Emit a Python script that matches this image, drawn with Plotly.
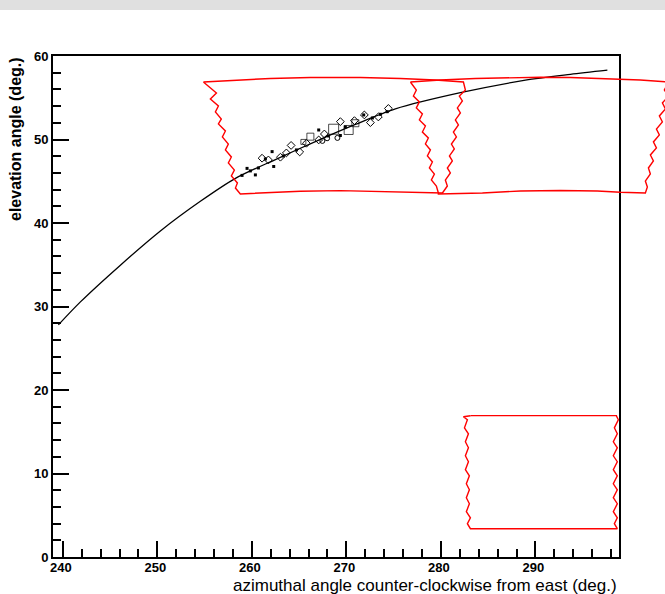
import plotly.graph_objects as go

# ---------------- data (azimuth deg, elevation deg) ----------------
CURVE_AZ = [239.53, 241.86, 246.09, 250.32, 254.55, 258.26, 262.49, 266.72, 270.95, 275.18, 282.06, 288.94, 293.70, 297.61]
CURVE_EL = [27.80, 30.55, 34.95, 39.05, 42.60, 45.35, 47.60, 49.75, 51.80, 53.66, 55.60, 57.10, 57.80, 58.30]

FILLED_AZ = [258.96, 259.49, 260.37, 261.43, 262.14, 262.31, 267.07, 269.36, 271.83, 273.60, 274.30, 259.84, 260.69, 263.33, 264.71, 268.09, 269.89, 272.75]
FILLED_EL = [45.70, 46.54, 45.76, 47.67, 48.55, 46.77, 51.14, 50.48, 52.94, 53.02, 53.33, 46.24, 46.59, 48.03, 48.75, 50.43, 51.50, 52.58]

DIAMOND_AZ = [261.08, 261.75, 263.02, 263.65, 264.15, 265.06, 265.77, 267.07, 267.67, 269.36, 270.85, 271.90, 272.54, 273.38, 274.44]
DIAMOND_EL = [47.76, 47.55, 47.88, 48.39, 49.29, 48.51, 49.55, 49.95, 50.66, 52.14, 52.26, 52.94, 52.02, 52.70, 53.72]

SQUARE_AZ = [266.19, 268.65, 270.24, 270.95, 265.45]
SQUARE_EL = [50.34, 51.23, 51.14, 51.95, 49.71]
SQUARE_SIZES = [7, 10, 9, 7, 5]

CIRCLE_AZ = [267.96, 267.46, 269.05]
CIRCLE_EL = [50.15, 49.83, 50.19]

# field-of-view outline A
A_TOP_AZ = [254.87, 258.26, 261.96, 266.19, 268.62, 271.48, 275.71, 279.41, 282.38]
A_TOP_EL = [56.89, 57.13, 57.31, 57.43, 57.46, 57.43, 57.31, 57.13, 56.89]
A_RIGHT_AZ = [282.38, 282.59, 281.95, 282.27, 281.74, 282.06, 281.53, 281.85, 281.32, 281.64, 281.11, 281.42, 280.90, 281.21, 280.68, 281.00, 280.47, 280.68, 280.16]
A_RIGHT_EL = [56.89, 55.93, 55.21, 54.62, 53.78, 53.18, 52.34, 51.74, 50.90, 50.30, 49.46, 48.87, 48.03, 47.43, 46.59, 45.99, 45.15, 44.43, 43.60]
A_BOTTOM_AZ = [258.78, 261.96, 265.13, 269.36, 273.60, 277.30, 280.16]
A_BOTTOM_EL = [43.48, 43.66, 43.81, 43.88, 43.81, 43.66, 43.60]
A_LEFT_AZ = [254.87, 256.25, 255.61, 256.46, 256.14, 256.77, 256.46, 257.20, 256.88, 257.51, 257.20, 257.83, 257.51, 258.15, 257.83, 258.47, 258.26, 258.78]
A_LEFT_EL = [56.89, 55.57, 54.85, 54.01, 53.30, 52.46, 51.86, 51.02, 50.30, 49.46, 48.75, 47.91, 47.19, 46.35, 45.63, 44.79, 44.19, 43.48]

# field-of-view outline B
B_TOP_AZ = [276.77, 279.94, 283.65, 287.35, 290.52, 293.70, 297.40, 301.10, 304.07]
B_TOP_EL = [56.89, 57.13, 57.31, 57.43, 57.46, 57.43, 57.31, 57.13, 56.89]
B_RIGHT_AZ = [304.07, 303.64, 304.07, 303.43, 303.75, 303.11, 303.43, 302.80, 303.11, 302.48, 302.80, 302.16, 302.48, 301.95, 302.16, 301.63, 301.84, 301.63]
B_RIGHT_EL = [56.89, 55.93, 55.21, 54.38, 53.66, 52.82, 52.10, 51.26, 50.54, 49.71, 48.99, 48.15, 47.43, 46.59, 45.87, 45.03, 44.31, 43.60]
B_BOTTOM_AZ = [279.73, 284.39, 288.41, 292.64, 296.55, 298.99, 301.63]
B_BOTTOM_EL = [43.48, 43.60, 43.84, 43.90, 43.84, 43.69, 43.60]
B_LEFT_AZ = [276.77, 277.40, 277.09, 277.72, 277.40, 278.04, 277.72, 278.36, 278.04, 278.67, 278.36, 278.89, 278.57, 279.10, 278.78, 279.31, 278.99, 279.52, 279.73]
B_LEFT_EL = [56.89, 55.93, 55.21, 54.50, 53.78, 53.06, 52.34, 51.62, 50.90, 50.18, 49.46, 48.75, 48.03, 47.31, 46.59, 45.87, 45.15, 44.43, 43.60]

# outline C (low box)
C_TOP_AZ = [283.12, 298.56]
C_TOP_EL = [16.93, 16.93]
C_RIGHT_AZ = [298.56, 298.77, 298.35, 298.66, 298.24, 298.66, 298.24, 298.66, 298.24, 298.66, 298.24, 298.66, 298.24, 298.66, 298.24, 298.66, 298.35, 298.66]
C_RIGHT_EL = [16.91, 16.43, 15.47, 14.76, 13.80, 13.08, 12.12, 11.41, 10.45, 9.73, 8.77, 8.05, 7.10, 6.38, 5.42, 4.70, 3.99, 3.39]
C_BOTTOM_AZ = [283.12, 298.66]
C_BOTTOM_EL = [3.39, 3.39]
C_LEFT_AZ = [283.12, 282.38, 282.80, 282.49, 282.91, 282.59, 282.91, 282.59, 282.91, 282.59, 283.01, 282.69, 283.01, 282.69, 283.01, 282.69, 283.12, 282.80, 283.12]
C_LEFT_EL = [16.91, 16.79, 16.43, 15.47, 14.76, 13.80, 13.08, 12.12, 11.41, 10.45, 9.73, 8.77, 8.05, 7.10, 6.38, 5.42, 4.70, 3.99, 3.39]

X_RANGE = [238.96, 298.84]
Y_RANGE = [0, 60]
X_TITLE = "azimuthal angle counter-clockwise from east (deg.)"
Y_TITLE = "elevation angle (deg.)"

# ---------------- layout geometry ----------------
W, H = 665, 594
ML, MT, MB = 53, 56, 37
AXIS_W = 566            # visible frame width in px
PLOT_W = W - ML         # drawing area extends to the right edge
PLOT_H = H - MT - MB
dom_end = AXIS_W / PLOT_W
x2_max = X_RANGE[0] + (X_RANGE[1] - X_RANGE[0]) / dom_end


def outline(top_az, top_el, right_az, right_el, bot_az, bot_el, left_az, left_el):
    xs = list(top_az) + list(right_az) + list(bot_az)[::-1] + list(left_az)[::-1]
    ys = list(top_el) + list(right_el) + list(bot_el)[::-1] + list(left_el)[::-1]
    return xs, ys


fig = go.Figure()
RED = "#ff0000"
for parts in [
    (A_TOP_AZ, A_TOP_EL, A_RIGHT_AZ, A_RIGHT_EL, A_BOTTOM_AZ, A_BOTTOM_EL, A_LEFT_AZ, A_LEFT_EL),
    (B_TOP_AZ, B_TOP_EL, B_RIGHT_AZ, B_RIGHT_EL, B_BOTTOM_AZ, B_BOTTOM_EL, B_LEFT_AZ, B_LEFT_EL),
    (C_TOP_AZ, C_TOP_EL, C_RIGHT_AZ, C_RIGHT_EL, C_BOTTOM_AZ, C_BOTTOM_EL, C_LEFT_AZ, C_LEFT_EL),
]:
    xs, ys = outline(*parts)
    fig.add_trace(go.Scatter(x=xs, y=ys, mode="lines", xaxis="x2", yaxis="y",
                             line=dict(color=RED, width=1.4), hoverinfo="skip", showlegend=False))

fig.add_trace(go.Scatter(x=CURVE_AZ, y=CURVE_EL, mode="lines",
                         line=dict(color="black", width=1.3, shape="spline", smoothing=0.8),
                         showlegend=False))
fig.add_trace(go.Scatter(x=SQUARE_AZ, y=SQUARE_EL, mode="markers",
                         marker=dict(symbol="square-open", size=SQUARE_SIZES, color="black",
                                     line=dict(width=1, color="black")), showlegend=False))
fig.add_trace(go.Scatter(x=CIRCLE_AZ, y=CIRCLE_EL, mode="markers",
                         marker=dict(symbol="circle-open", size=5, color="black",
                                     line=dict(width=1, color="black")), showlegend=False))
fig.add_trace(go.Scatter(x=DIAMOND_AZ, y=DIAMOND_EL, mode="markers",
                         marker=dict(symbol="diamond-open", size=6, color="black",
                                     line=dict(width=1, color="black")), showlegend=False))
fig.add_trace(go.Scatter(x=FILLED_AZ, y=FILLED_EL, mode="markers",
                         marker=dict(symbol="square", size=3, color="black"), showlegend=False))

tickfont = dict(family="Liberation Sans, Arial, sans-serif", size=13, color="black", weight="bold")

fig.update_layout(
    width=W, height=H,
    margin=dict(l=ML, r=0, t=MT, b=MB, pad=0),
    paper_bgcolor="white", plot_bgcolor="rgba(0,0,0,0)",
    showlegend=False,
    xaxis=dict(domain=[0, dom_end], range=X_RANGE, showgrid=False, zeroline=False,
               showline=True, linecolor="black", linewidth=2, mirror=True,
               ticks="inside", ticklen=16, tickwidth=2, tickcolor="black",
               tick0=0, dtick=10, tickfont=tickfont, ticklabelstandoff=-3, ticklabelshift=-2,
               minor=dict(ticks="inside", ticklen=8, tickwidth=2, tickcolor="black", tick0=0, dtick=2)),
    xaxis2=dict(domain=[0, 1], range=[X_RANGE[0], x2_max], visible=False, anchor="y"),
    yaxis=dict(range=Y_RANGE, showgrid=False, zeroline=False,
               showline=True, linecolor="black", linewidth=2, mirror=True,
               ticks="inside", ticklen=16, tickwidth=2, tickcolor="black",
               tick0=0, dtick=10, tickfont=tickfont, anchor="x",
               minor=dict(ticks="inside", ticklen=8, tickwidth=2, tickcolor="black", tick0=0, dtick=2)),
    shapes=[dict(type="rect", xref="paper", yref="paper",
                 x0=-ML / PLOT_W, x1=1.0, y0=1 + (MT - 10) / PLOT_H, y1=1 + MT / PLOT_H,
                 fillcolor="#e0e0e0", line=dict(width=0), layer="below")],
    annotations=[
        dict(text=X_TITLE, xref="paper", yref="paper", x=dom_end, y=-(585 - 557) / PLOT_H,
             xanchor="right", yanchor="middle", showarrow=False,
             font=dict(family="Liberation Sans, Arial, sans-serif", size=17, color="black")),
        dict(text=Y_TITLE, xref="paper", yref="paper", x=-(ML - 16) / PLOT_W, y=1 + 1 / PLOT_H,
             xanchor="center", yanchor="top", textangle=-90, showarrow=False,
             font=dict(family="Liberation Sans, Arial, sans-serif", size=16, color="black", weight="bold")),
    ],
)

fig.write_html("out.html")
